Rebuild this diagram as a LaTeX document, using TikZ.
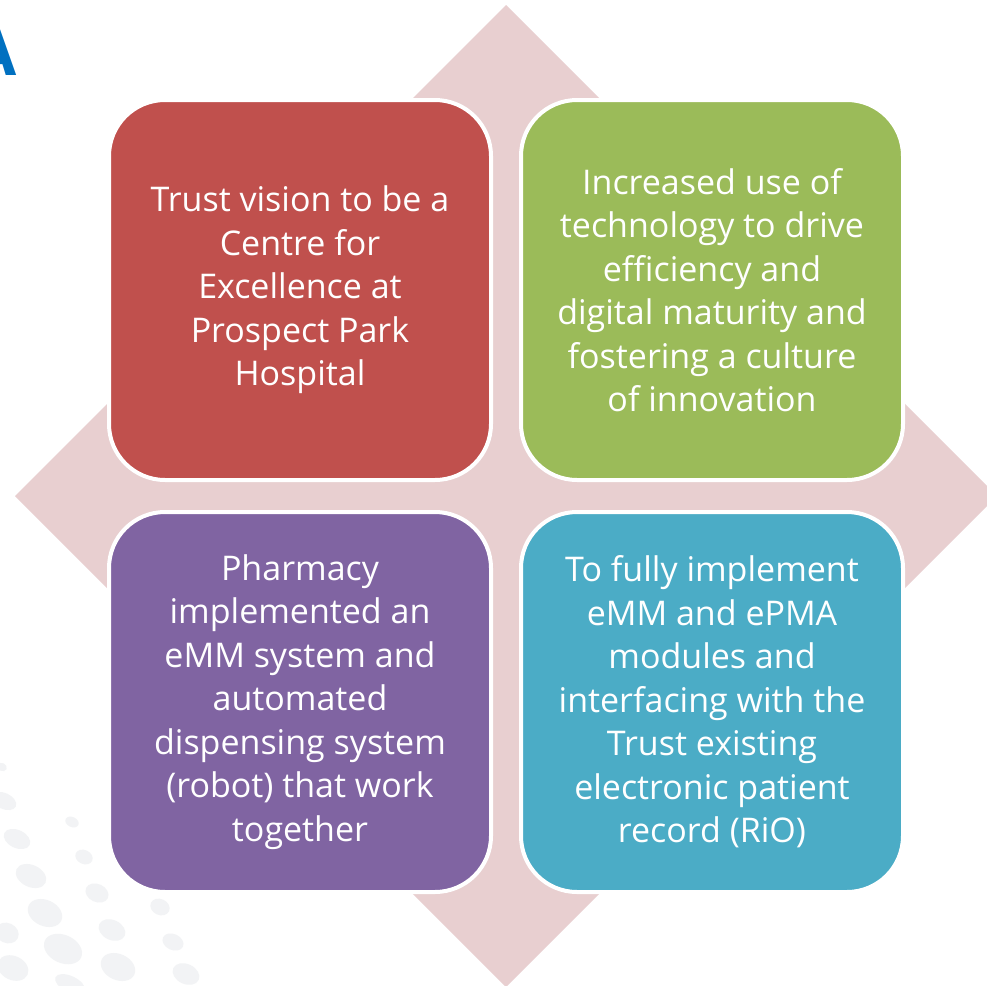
\documentclass[tikz,border=0pt]{standalone}
\usepackage{fontspec}
\setmainfont{Open Sans}
\definecolor{diamondpink}{HTML}{E8CFD0}
\definecolor{boxred}{HTML}{C0504D}
\definecolor{boxgreen}{HTML}{9BBB59}
\definecolor{boxpurple}{HTML}{8064A2}
\definecolor{boxblue}{HTML}{4BACC6}
\definecolor{titleblue}{HTML}{0070C0}
\definecolor{dotgrey}{HTML}{F2F3F5}
\begin{document}
\begin{tikzpicture}[x=1pt,y=-1pt,
  quadbox/.style={rectangle, rounded corners=56pt, draw=white, line width=4pt,
    minimum width=382pt, minimum height=380pt, inner sep=0pt,
    text=white, align=center,
    font=\fontsize{34}{43.5}\selectfont},
  dot/.style={fill=dotgrey}]
\useasboundingbox (0,0) rectangle (986,986);
\fill[white] (0,0) rectangle (986,986);

% faint dot pattern in the lower-left background
\foreach \px/\py/\rx/\ry in {
  2/767/5/4, 4/801/13/8, 72/822/7/5, 17/839/14/9, 84/857/9/7,
  31/876/16/11, 97/893/12/9, 45/913/18/13, 160/907/10/8, 7/933/12/10,
  112/930/14/10, 63/949/20/14, 173/942/11/8, 13/968/16/12,
  118/967/18/13, 186/974/14/10, 70/984/16/8}
  \fill[dot, rotate around={-25:(\px,\py)}] (\px,\py) ellipse [x radius=\rx, y radius=\ry];

% partial heading letter at the top-left edge
\node[anchor=base east, inner sep=0pt, text=titleblue,
  font=\fontsize{64}{64}\selectfont\bfseries] (heading) at (17,75) {A};

% background diamond
\fill[diamondpink] (506,5) -- (997,496) -- (506,987) -- (15,496) -- cycle;

% the four quadrant boxes
\node[quadbox, fill=boxred] (vision) at (300,290)
  {Trust vision to be a\\Centre for\\Excellence at\\Prospect Park\\Hospital};
\node[quadbox, fill=boxgreen] (technology) at (712,290)
  {Increased use of\\technology to drive\\efficiency and\\digital maturity and\\fostering a culture\\of innovation};
\node[quadbox, fill=boxpurple] (pharmacy) at (300,702)
  {Pharmacy\\implemented an\\eMM system and\\automated\\dispensing system\\(robot) that work\\together};
\node[quadbox, fill=boxblue] (implement) at (712,702)
  {To fully implement\\eMM and ePMA\\modules and\\interfacing with the\\Trust existing\\electronic patient\\record (RiO)};
\end{tikzpicture}
\end{document}
